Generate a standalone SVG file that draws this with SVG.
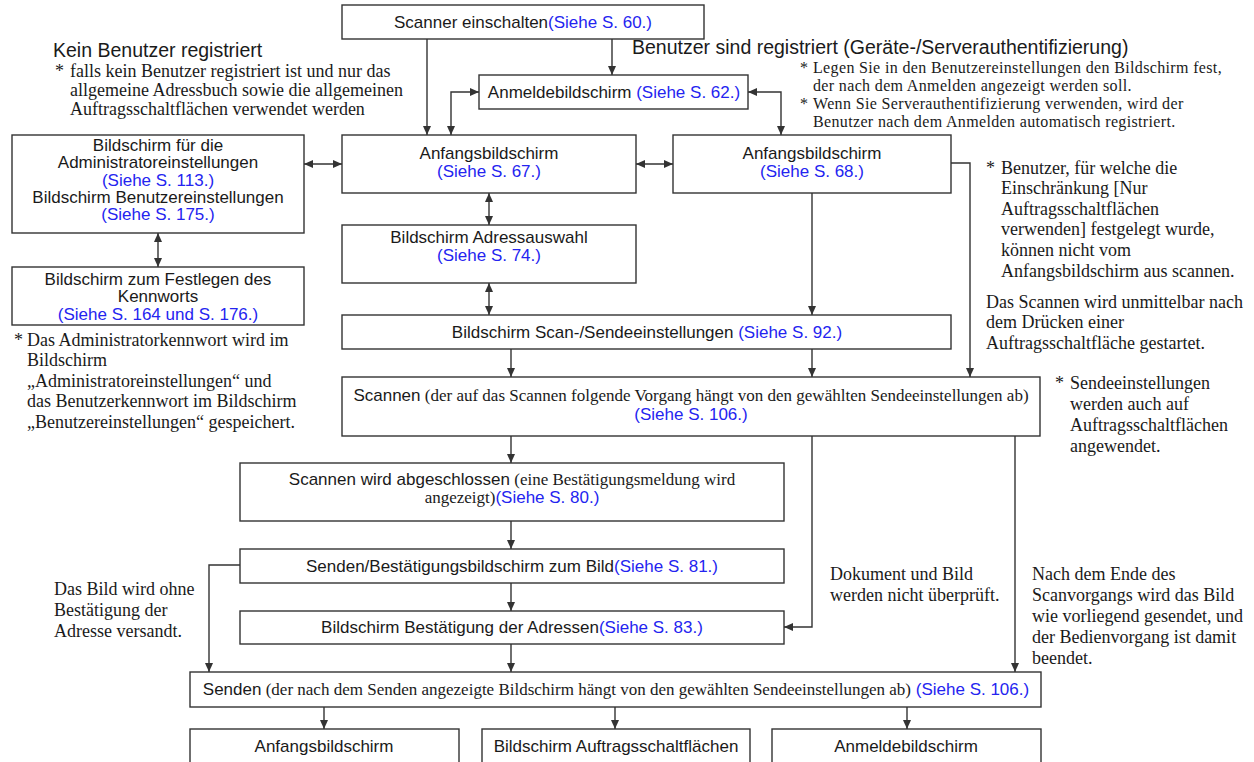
<svg xmlns="http://www.w3.org/2000/svg" width="1254" height="762" viewBox="0 0 1254 762">
  <defs>
    <marker id="arr" viewBox="0 0 9 8" refX="9" refY="4" markerWidth="9" markerHeight="8" markerUnits="userSpaceOnUse" orient="auto-start-reverse">
      <path d="M0,0 L9,4 L0,8 z" fill="#333"/>
    </marker>
  </defs>
  <style>
    .box{fill:#fff;stroke:#333;stroke-width:1.4}
    .c{fill:none;stroke:#333;stroke-width:1.4}
    .one{marker-end:url(#arr)}
    .two{marker-start:url(#arr);marker-end:url(#arr)}
    .s{font-family:"Liberation Sans",Arial,Helvetica,sans-serif;font-size:17px;fill:#1a1a1a}
    .m{text-anchor:middle}
    .h{font-size:19.5px}
    .b{fill:#2424f0}
    .r{font-family:"Liberation Serif","Times New Roman",serif;font-size:17px}
    .n{font-family:"Liberation Serif","Times New Roman",serif;font-size:18px;fill:#1a1a1a}
    .ns{font-size:16px;letter-spacing:0.35px}
  </style>
  <rect width="1254" height="762" fill="#fff"/>

  <!-- connectors -->
  <g id="connectors">
    <path class="c one" d="M427,39 V135"/>
    <path class="c one" d="M612,39 V75"/>
    <path class="c two" d="M479,92 H451 V135"/>
    <path class="c two" d="M748,92 H781 V135"/>
    <path class="c two" d="M304,164 H342"/>
    <path class="c two" d="M636,164 H673"/>
    <path class="c two" d="M158,233 V267"/>
    <path class="c two" d="M489,193 V225"/>
    <path class="c two" d="M489,283 V315"/>
    <path class="c one" d="M812,193 V315"/>
    <path class="c one" d="M951,163 H970 V377"/>
    <path class="c one" d="M511,349 V377"/>
    <path class="c one" d="M812,349 V377"/>
    <path class="c one" d="M511,436 V463"/>
    <path class="c one" d="M511,521 V549"/>
    <path class="c one" d="M511,583 V611"/>
    <path class="c one" d="M511,644 V672"/>
    <path class="c one" d="M240,565 H209 V672"/>
    <path class="c one" d="M812,436 V627 H784"/>
    <path class="c one" d="M1015,436 V672"/>
    <path class="c one" d="M324,707 V729"/>
    <path class="c one" d="M615,707 V729"/>
    <path class="c one" d="M907,707 V729"/>
  </g>

  <!-- screens -->
  <g id="n-scanner-on">
    <rect class="box" x="342" y="5" width="362" height="34"/>
    <text class="s m" x="523" y="28">Scanner einschalten<tspan class="b">(Siehe S. 60.)</tspan></text>
  </g>
  <g id="n-login">
    <rect class="box" x="479" y="75" width="269" height="34"/>
    <text class="s m" x="614" y="98">Anmeldebildschirm <tspan class="b">(Siehe S. 62.)</tspan></text>
  </g>
  <g id="n-home-a">
    <rect class="box" x="342" y="135" width="294" height="58"/>
    <text class="s m" x="489" y="159">Anfangsbildschirm</text>
    <text class="s m b" x="489" y="177">(Siehe S. 67.)</text>
  </g>
  <g id="n-home-b">
    <rect class="box" x="673" y="135" width="278" height="58"/>
    <text class="s m" x="812" y="159">Anfangsbildschirm</text>
    <text class="s m b" x="812" y="177">(Siehe S. 68.)</text>
  </g>
  <g id="n-admin">
    <rect class="box" x="12" y="135" width="292" height="98"/>
    <text class="s m" x="158" y="151">Bildschirm für die</text>
    <text class="s m" x="158" y="168">Administratoreinstellungen</text>
    <text class="s m b" x="158" y="186">(Siehe S. 113.)</text>
    <text class="s m" x="158" y="203">Bildschirm Benutzereinstellungen</text>
    <text class="s m b" x="158" y="220">(Siehe S. 175.)</text>
  </g>
  <g id="n-password">
    <rect class="box" x="12" y="267" width="292" height="58"/>
    <text class="s m" x="158" y="285">Bildschirm zum Festlegen des</text>
    <text class="s m" x="158" y="302">Kennworts</text>
    <text class="s m b" x="158" y="320">(Siehe S. 164 und S. 176.)</text>
  </g>
  <g id="n-address">
    <rect class="box" x="342" y="225" width="294" height="58"/>
    <text class="s m" x="489" y="243">Bildschirm Adressauswahl</text>
    <text class="s m b" x="489" y="261">(Siehe S. 74.)</text>
  </g>
  <g id="n-scan-settings">
    <rect class="box" x="342" y="315" width="609" height="34"/>
    <text class="s m" x="647" y="338">Bildschirm Scan-/Sendeeinstellungen <tspan class="b">(Siehe S. 92.)</tspan></text>
  </g>
  <g id="n-scan">
    <rect class="box" x="342" y="377" width="698" height="59"/>
    <text class="s m" x="691" y="401">Scannen<tspan class="r"> (der auf das Scannen folgende Vorgang hängt von den gewählten Sendeeinstellungen ab)</tspan></text>
    <text class="s m b" x="691" y="420">(Siehe S. 106.)</text>
  </g>
  <g id="n-scan-done">
    <rect class="box" x="240" y="463" width="544" height="58"/>
    <text class="s m" x="512" y="485">Scannen wird abgeschlossen<tspan class="r"> (eine Bestätigungsmeldung wird</tspan></text>
    <text class="s m" x="512" y="503"><tspan class="r">angezeigt)</tspan><tspan class="b">(Siehe S. 80.)</tspan></text>
  </g>
  <g id="n-send-confirm">
    <rect class="box" x="240" y="549" width="544" height="34"/>
    <text class="s m" x="512" y="572">Senden/Bestätigungsbildschirm zum Bild<tspan class="b">(Siehe S. 81.)</tspan></text>
  </g>
  <g id="n-address-confirm">
    <rect class="box" x="240" y="611" width="544" height="33"/>
    <text class="s m" x="512" y="633">Bildschirm Bestätigung der Adressen<tspan class="b">(Siehe S. 83.)</tspan></text>
  </g>
  <g id="n-send">
    <rect class="box" x="190" y="672" width="851" height="35"/>
    <text class="s m" x="616" y="695">Senden<tspan class="r"> (der nach dem Senden angezeigte Bildschirm hängt von den gewählten Sendeeinstellungen ab)</tspan> <tspan class="b">(Siehe S. 106.)</tspan></text>
  </g>
  <g id="n-end-home">
    <rect class="box" x="190" y="729" width="269" height="50"/>
    <text class="s m" x="324" y="752">Anfangsbildschirm</text>
  </g>
  <g id="n-end-jobbuttons">
    <rect class="box" x="482" y="729" width="268" height="50"/>
    <text class="s m" x="616" y="752">Bildschirm Auftragsschaltflächen</text>
  </g>
  <g id="n-end-login">
    <rect class="box" x="772" y="729" width="269" height="50"/>
    <text class="s m" x="906" y="752">Anmeldebildschirm</text>
  </g>

  <!-- headings and notes -->
  <g id="notes">
    <text class="s h" x="53" y="57">Kein Benutzer registriert</text>
    <text class="n" x="55" y="77">*</text>
    <text class="n" x="70" y="77">falls kein Benutzer registriert ist und nur das</text>
    <text class="n" x="70" y="96">allgemeine Adressbuch sowie die allgemeinen</text>
    <text class="n" x="70" y="115">Auftragsschaltflächen verwendet werden</text>

    <text class="s h" x="632" y="54">Benutzer sind registriert (Geräte-/Serverauthentifizierung)</text>
    <text class="n ns" x="800" y="73">*</text>
    <text class="n ns" x="813" y="73">Legen Sie in den Benutzereinstellungen den Bildschirm fest,</text>
    <text class="n ns" x="813" y="91">der nach dem Anmelden angezeigt werden soll.</text>
    <text class="n ns" x="800" y="109">*</text>
    <text class="n ns" x="813" y="109">Wenn Sie Serverauthentifizierung verwenden, wird der</text>
    <text class="n ns" x="813" y="127">Benutzer nach dem Anmelden automatisch registriert.</text>

    <text class="n" x="986" y="174">*</text>
    <text class="n" x="1001" y="174">Benutzer, für welche die</text>
    <text class="n" x="1001" y="194">Einschränkung [Nur</text>
    <text class="n" x="1001" y="215">Auftragsschaltflächen</text>
    <text class="n" x="1001" y="235">verwenden] festgelegt wurde,</text>
    <text class="n" x="1001" y="256">können nicht vom</text>
    <text class="n" x="1001" y="277">Anfangsbildschirm aus scannen.</text>

    <text class="n" x="986" y="308">Das Scannen wird unmittelbar nach</text>
    <text class="n" x="986" y="328">dem Drücken einer</text>
    <text class="n" x="986" y="349">Auftragsschaltfläche gestartet.</text>

    <text class="n" x="1055" y="389">*</text>
    <text class="n" x="1070" y="389">Sendeeinstellungen</text>
    <text class="n" x="1070" y="410">werden auch auf</text>
    <text class="n" x="1070" y="431">Auftragsschaltflächen</text>
    <text class="n" x="1070" y="452">angewendet.</text>

    <text class="n" x="14" y="346">*</text>
    <text class="n" x="27" y="346">Das Administratorkennwort wird im</text>
    <text class="n" x="27" y="366">Bildschirm</text>
    <text class="n" x="27" y="387">„Administratoreinstellungen“ und</text>
    <text class="n" x="27" y="407">das Benutzerkennwort im Bildschirm</text>
    <text class="n" x="27" y="428">„Benutzereinstellungen“ gespeichert.</text>

    <text class="n" x="830" y="580">Dokument und Bild</text>
    <text class="n" x="830" y="601">werden nicht überprüft.</text>

    <text class="n" x="1032" y="580">Nach dem Ende des</text>
    <text class="n" x="1032" y="601">Scanvorgangs wird das Bild</text>
    <text class="n" x="1032" y="622">wie vorliegend gesendet, und</text>
    <text class="n" x="1032" y="643">der Bedienvorgang ist damit</text>
    <text class="n" x="1032" y="664">beendet.</text>

    <text class="n" x="54" y="595">Das Bild wird ohne</text>
    <text class="n" x="54" y="616">Bestätigung der</text>
    <text class="n" x="54" y="637">Adresse versandt.</text>
  </g>
</svg>
